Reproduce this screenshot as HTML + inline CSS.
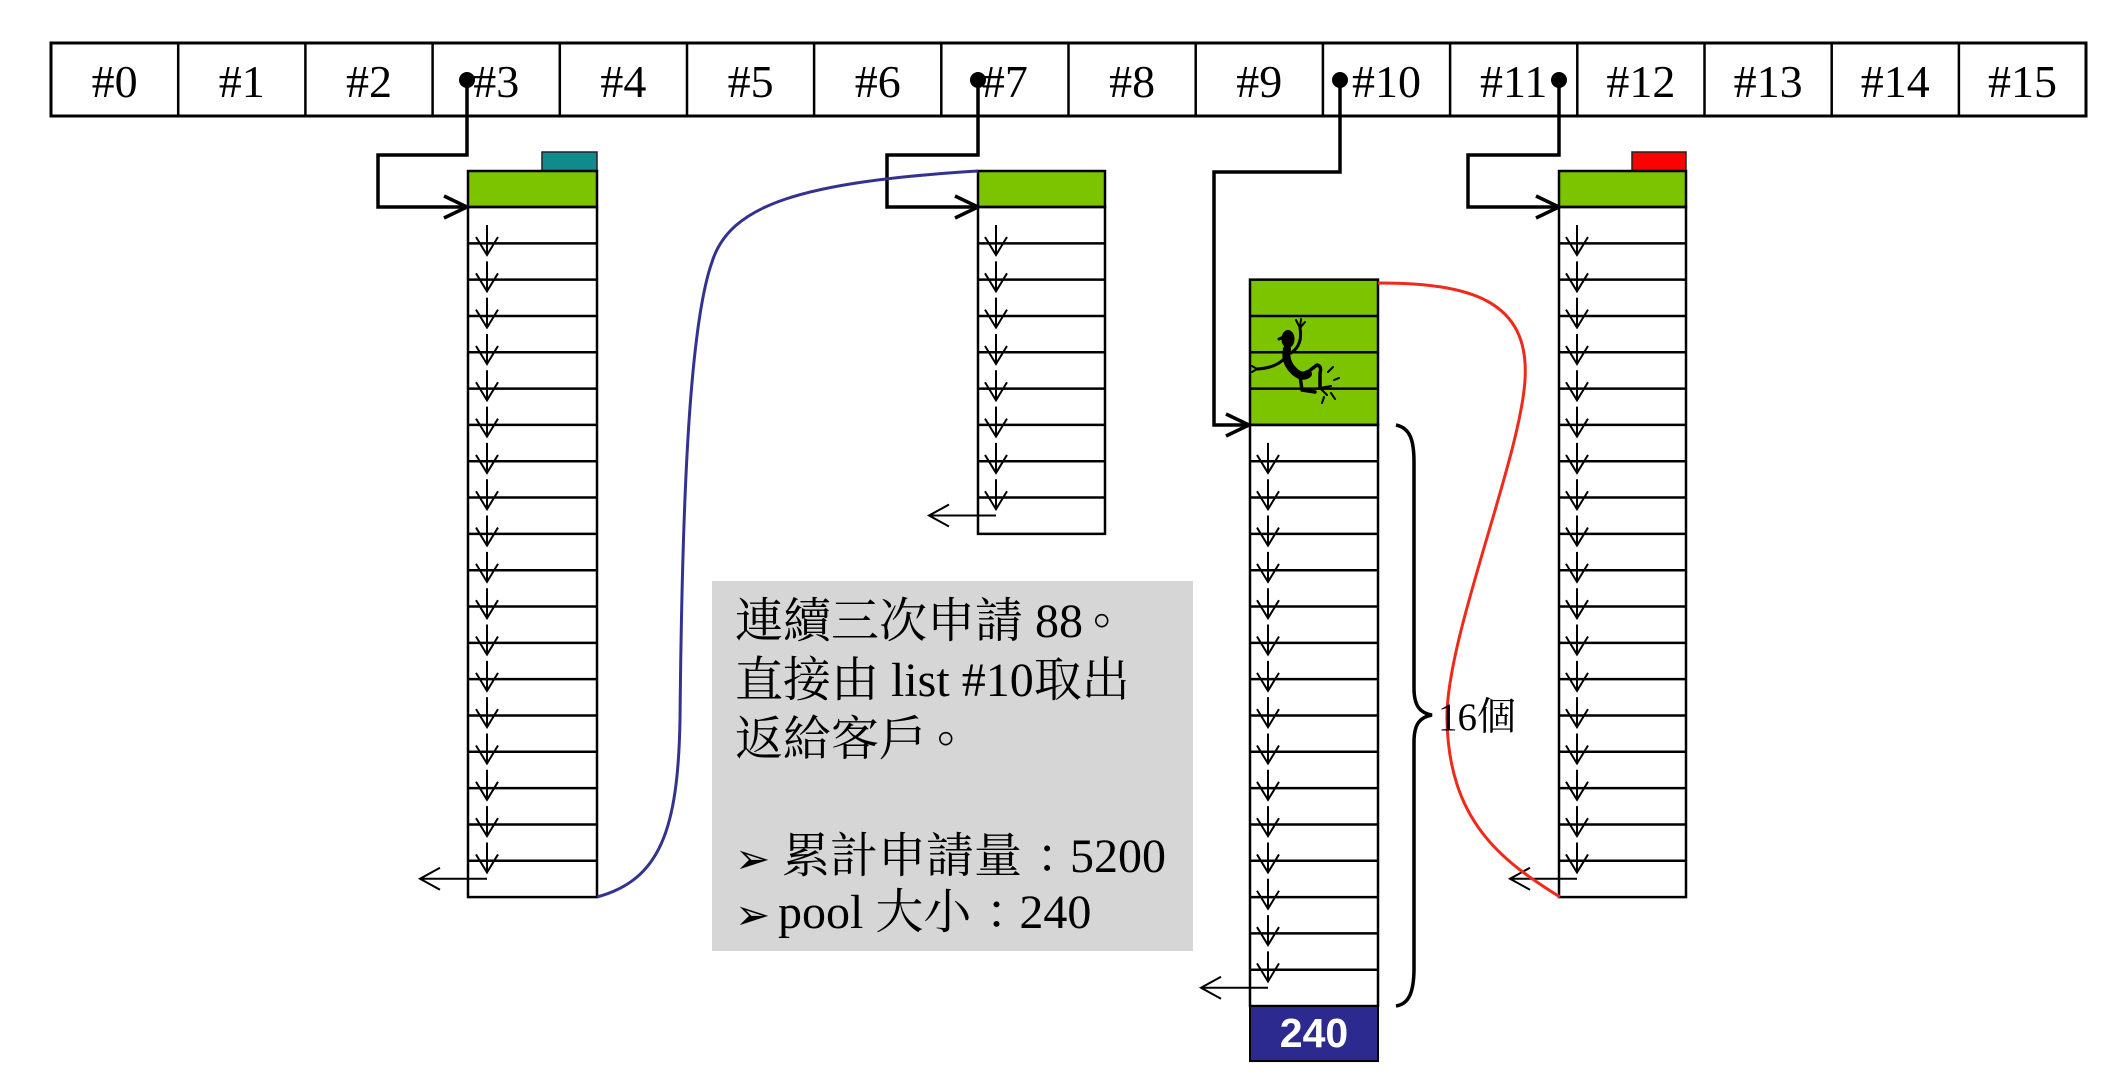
<!DOCTYPE html>
<html><head><meta charset="utf-8"><style>
html,body{margin:0;padding:0;background:#fff;}
svg{display:block;}
.tb{font-family:"Liberation Serif","Noto Serif CJK SC",serif;font-size:46px;fill:#000;}
.tx{font-family:"Liberation Serif","Noto Serif CJK SC",serif;font-size:48px;fill:#000;}
</style></head><body>
<svg width="2124" height="1092" viewBox="0 0 2124 1092" xmlns="http://www.w3.org/2000/svg" xmlns:xlink="http://www.w3.org/1999/xlink">
<defs>
<g id="a"><path d="M0 18V48M-11 30L0 48L11 30" fill="none" stroke="#000" stroke-width="2"/></g>
<g id="l"><path d="M0 18H-67M-47 7L-67 18L-47 29" fill="none" stroke="#000" stroke-width="2"/></g>
</defs>
<rect width="2124" height="1092" fill="#fff"/>

<!-- table -->
<rect x="51" y="43" width="2035" height="73" fill="#fff" stroke="#000" stroke-width="3"/>
<path d="M178.2 43V116M305.4 43V116M432.6 43V116M559.8 43V116M687 43V116M814.1 43V116M941.3 43V116M1068.5 43V116M1195.7 43V116M1322.9 43V116M1450.1 43V116M1577.3 43V116M1704.5 43V116M1831.7 43V116M1958.9 43V116" stroke="#000" stroke-width="2.5"/>
<g class="tb" text-anchor="middle">
<text x="114.6" y="97">#0</text>
<text x="241.8" y="97">#1</text>
<text x="369" y="97">#2</text>
<text x="496.2" y="97">#3</text>
<text x="623.4" y="97">#4</text>
<text x="750.6" y="97">#5</text>
<text x="877.7" y="97">#6</text>
<text x="1004.9" y="97">#7</text>
<text x="1132.1" y="97">#8</text>
<text x="1259.3" y="97">#9</text>
<text x="1386.5" y="97">#10</text>
<text x="1513.7" y="97">#11</text>
<text x="1640.9" y="97">#12</text>
<text x="1768.1" y="97">#13</text>
<text x="1895.3" y="97">#14</text>
<text x="2022.5" y="97">#15</text>
</g>

<!-- connectors -->
<g fill="none" stroke="#000" stroke-width="3.5">
<path d="M467 80V155H378V207H465"/>
<path d="M444 196L467 207L444 218"/>
<path d="M978 80V155H887V207H976"/>
<path d="M955 196L978 207L955 218"/>
<path d="M1340 80V172H1214V425H1248"/>
<path d="M1226 414L1249 425L1226 436"/>
<path d="M1559 80V155H1468V207H1557"/>
<path d="M1536 196L1559 207L1536 218"/>
</g>
<g fill="#000">
<circle cx="467" cy="80" r="8"/>
<circle cx="978" cy="80" r="8"/>
<circle cx="1340" cy="80" r="8"/>
<circle cx="1559" cy="80" r="8"/>
</g>

<!-- gray box -->
<rect x="712" y="581" width="481" height="370" fill="#d6d6d6"/>

<!-- list #3 -->
<rect x="542" y="152" width="55" height="19" fill="#108a8a" stroke="#222" stroke-width="1.5"/>
<rect x="468" y="171" width="129" height="36" fill="#7cc400" stroke="#000" stroke-width="2.5"/>
<rect x="468" y="207" width="129" height="690.08" fill="none" stroke="#000" stroke-width="2.5"/>
<path d="M468 243.32H597M468 279.64H597M468 315.96H597M468 352.28H597M468 388.6H597M468 424.92H597M468 461.24H597M468 497.56H597M468 533.88H597M468 570.2H597M468 606.52H597M468 642.84H597M468 679.16H597M468 715.48H597M468 751.8H597M468 788.12H597M468 824.44H597M468 860.76H597" stroke="#000" stroke-width="2.5"/>
<g>
<use href="#a" x="487" y="207"/><use href="#a" x="487" y="243.32"/><use href="#a" x="487" y="279.64"/><use href="#a" x="487" y="315.96"/><use href="#a" x="487" y="352.28"/><use href="#a" x="487" y="388.6"/><use href="#a" x="487" y="424.92"/><use href="#a" x="487" y="461.24"/><use href="#a" x="487" y="497.56"/><use href="#a" x="487" y="533.88"/><use href="#a" x="487" y="570.2"/><use href="#a" x="487" y="606.52"/><use href="#a" x="487" y="642.84"/><use href="#a" x="487" y="679.16"/><use href="#a" x="487" y="715.48"/><use href="#a" x="487" y="751.8"/><use href="#a" x="487" y="788.12"/><use href="#a" x="487" y="824.44"/>
<use href="#l" x="487" y="860.76"/>
</g>

<!-- list #7 -->
<rect x="978" y="171" width="127" height="36" fill="#7cc400" stroke="#000" stroke-width="2.5"/>
<rect x="978" y="207" width="127" height="326.88" fill="none" stroke="#000" stroke-width="2.5"/>
<path d="M978 243.32H1105M978 279.64H1105M978 315.96H1105M978 352.28H1105M978 388.6H1105M978 424.92H1105M978 461.24H1105M978 497.56H1105" stroke="#000" stroke-width="2.5"/>
<g>
<use href="#a" x="996" y="207"/><use href="#a" x="996" y="243.32"/><use href="#a" x="996" y="279.64"/><use href="#a" x="996" y="315.96"/><use href="#a" x="996" y="352.28"/><use href="#a" x="996" y="388.6"/><use href="#a" x="996" y="424.92"/><use href="#a" x="996" y="461.24"/>
<use href="#l" x="996" y="497.56"/>
</g>

<!-- list #10 -->
<rect x="1250" y="279.64" width="128" height="145.28" fill="#7cc400" stroke="#000" stroke-width="2.5"/>
<path d="M1250 315.96H1378M1250 352.28H1378M1250 388.6H1378" stroke="#000" stroke-width="2.5"/>
<!-- figure -->
<g fill="none" stroke="#000" stroke-linecap="round" stroke-linejoin="round">
<ellipse cx="1288" cy="339" rx="6.5" ry="9" fill="#000" stroke="none"/>
<path d="M1279 339L1286 336" stroke-width="3"/>
<path d="M1287 349Q1284 362 1295 372Q1302 378 1308 374" stroke-width="8"/>
<path d="M1291 353Q1303 345 1300 328" stroke-width="3"/>
<path d="M1300 328L1296 320M1300 328L1301 319M1300 328L1305 322" stroke-width="2"/>
<path d="M1285 358Q1276 368 1257 369" stroke-width="3"/>
<path d="M1257 369L1252 366M1257 369L1252 372" stroke-width="2"/>
<path d="M1305 374L1317 365Q1322 366 1320 373L1320 388" stroke-width="3.5"/>
<path d="M1320 388L1331 386M1320 388L1327 395" stroke-width="2"/>
<path d="M1300 376L1302 390L1315 392" stroke-width="3.5"/>
<path d="M1328 372L1333 367M1334 380L1339 378M1324 397L1322 403M1331 393L1335 399" stroke-width="2"/>
</g>
<rect x="1250" y="424.92" width="128" height="581.12" fill="none" stroke="#000" stroke-width="2.5"/>
<path d="M1250 461.24H1378M1250 497.56H1378M1250 533.88H1378M1250 570.2H1378M1250 606.52H1378M1250 642.84H1378M1250 679.16H1378M1250 715.48H1378M1250 751.8H1378M1250 788.12H1378M1250 824.44H1378M1250 860.76H1378M1250 897.08H1378M1250 933.4H1378M1250 969.72H1378" stroke="#000" stroke-width="2.5"/>
<g>
<use href="#a" x="1268" y="424.92"/><use href="#a" x="1268" y="461.24"/><use href="#a" x="1268" y="497.56"/><use href="#a" x="1268" y="533.88"/><use href="#a" x="1268" y="570.2"/><use href="#a" x="1268" y="606.52"/><use href="#a" x="1268" y="642.84"/><use href="#a" x="1268" y="679.16"/><use href="#a" x="1268" y="715.48"/><use href="#a" x="1268" y="751.8"/><use href="#a" x="1268" y="788.12"/><use href="#a" x="1268" y="824.44"/><use href="#a" x="1268" y="860.76"/><use href="#a" x="1268" y="897.08"/><use href="#a" x="1268" y="933.4"/>
<use href="#l" x="1268" y="969.72"/>
</g>
<rect x="1250" y="1006.04" width="128" height="55" fill="#2c2a8f" stroke="#000" stroke-width="2"/>
<text x="1314" y="1047" text-anchor="middle" font-family="Liberation Sans, Arial, sans-serif" font-weight="bold" font-size="41" fill="#fff">240</text>

<!-- list #11 -->
<rect x="1632" y="152" width="54" height="19" fill="#ff0000" stroke="#222" stroke-width="1.5"/>
<rect x="1559" y="171" width="127" height="36" fill="#7cc400" stroke="#000" stroke-width="2.5"/>
<rect x="1559" y="207" width="127" height="690.08" fill="none" stroke="#000" stroke-width="2.5"/>
<path d="M1559 243.32H1686M1559 279.64H1686M1559 315.96H1686M1559 352.28H1686M1559 388.6H1686M1559 424.92H1686M1559 461.24H1686M1559 497.56H1686M1559 533.88H1686M1559 570.2H1686M1559 606.52H1686M1559 642.84H1686M1559 679.16H1686M1559 715.48H1686M1559 751.8H1686M1559 788.12H1686M1559 824.44H1686M1559 860.76H1686" stroke="#000" stroke-width="2.5"/>
<g>
<use href="#a" x="1577" y="207"/><use href="#a" x="1577" y="243.32"/><use href="#a" x="1577" y="279.64"/><use href="#a" x="1577" y="315.96"/><use href="#a" x="1577" y="352.28"/><use href="#a" x="1577" y="388.6"/><use href="#a" x="1577" y="424.92"/><use href="#a" x="1577" y="461.24"/><use href="#a" x="1577" y="497.56"/><use href="#a" x="1577" y="533.88"/><use href="#a" x="1577" y="570.2"/><use href="#a" x="1577" y="606.52"/><use href="#a" x="1577" y="642.84"/><use href="#a" x="1577" y="679.16"/><use href="#a" x="1577" y="715.48"/><use href="#a" x="1577" y="751.8"/><use href="#a" x="1577" y="788.12"/><use href="#a" x="1577" y="824.44"/>
<use href="#l" x="1577" y="860.76"/>
</g>

<!-- curves -->
<path d="M597 897C660 880 678 830 680 720C682 520 688 330 712 262C730 205 800 182 978 171" fill="none" stroke="#33338f" stroke-width="3"/>
<path d="M1378 283C1470 283 1530 300 1525 380C1520 460 1445 640 1447 720C1449 820 1500 860 1560 897" fill="none" stroke="#ee2a1a" stroke-width="3"/>

<!-- brace -->
<path d="M1396 425C1410 428 1414 440 1414 462L1414 688C1414 706 1420 713 1432 715C1420 717 1414 724 1414 742L1414 968C1414 992 1409 1004 1396 1006" fill="none" stroke="#000" stroke-width="3.5"/>
<text x="1438" y="730" font-family="Liberation Serif, Noto Serif CJK SC, serif" font-size="39" fill="#000">16個</text>

<!-- text box content -->
<text class="tx" x="735" y="637">連續三次申請 88<tspan dx="10" dy="-14">。</tspan></text>
<text class="tx" x="735" y="696">直接由 list #10取出</text>
<text class="tx" x="735" y="755">返給客戶<tspan dx="10" dy="-14">。</tspan></text>
<text x="735" y="873" font-family="DejaVu Sans, sans-serif" font-size="42" fill="#000">➢</text>
<text class="tx" x="782" y="872">累計申請量<tspan dx="14">：</tspan><tspan dx="-14">5200</tspan></text>
<text x="735" y="929" font-family="DejaVu Sans, sans-serif" font-size="42" fill="#000">➢</text>
<text class="tx" x="778" y="928">pool 大小<tspan dx="14">：</tspan><tspan dx="-14">240</tspan></text>
</svg>
</body></html>
